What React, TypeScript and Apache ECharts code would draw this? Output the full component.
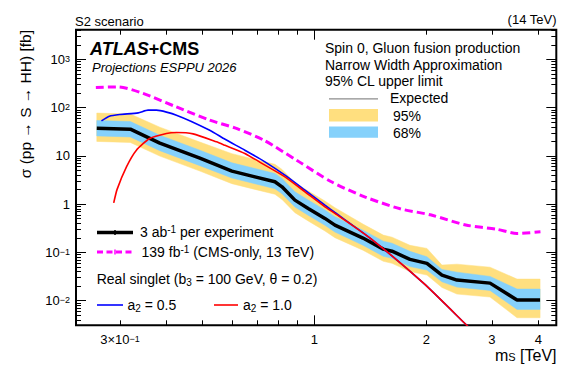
import React, { useEffect, useRef } from "react";
import * as echarts from "echarts";

// ---- Expected limit, 3 ab^-1 per experiment (mass in TeV, sigma in fb)
const MASS_EXP = [0.26, 0.32, 0.384, 0.492, 0.6, 0.692, 0.783, 0.818, 0.886, 0.962, 1.067, 1.135, 1.35, 1.531, 1.616, 1.806, 2.006, 2.201, 2.415, 2.964, 3.503, 4.04];
const EXPECTED = [37.5, 35.7, 18.3, 8.96, 4.82, 3.67, 2.9, 2.28, 1.21, 0.815, 0.506, 0.367, 0.198, 0.117, 0.106, 0.0716, 0.0592, 0.0339, 0.0267, 0.0231, 0.0103, 0.0103];
const BAND95_HI = [76.9, 73.2, 39.3, 19.3, 11.1, 8.44, 6.67, 5.24, 2.78, 1.87, 1.16, 0.844, 0.386, 0.228, 0.207, 0.14, 0.121, 0.0546, 0.0571, 0.0494, 0.028, 0.028];
const BAND68_HI = [54.0, 51.4, 26.7, 13.1, 7.18, 5.47, 4.32, 3.4, 1.8, 1.21, 0.754, 0.547, 0.289, 0.171, 0.155, 0.105, 0.0811, 0.0444, 0.039, 0.0318, 0.0174, 0.0174];
const BAND68_LO = [25.9, 24.6, 12.8, 6.27, 3.47, 2.64, 2.09, 1.64, 0.871, 0.587, 0.364, 0.264, 0.141, 0.0831, 0.0753, 0.0508, 0.043, 0.0246, 0.0191, 0.0163, 0.0066, 0.0066];
const BAND95_LO = [19.9, 18.9, 9.88, 4.84, 2.65, 2.02, 1.6, 1.25, 0.666, 0.448, 0.278, 0.202, 0.111, 0.0655, 0.0594, 0.0401, 0.0339, 0.0188, 0.0137, 0.0119, 0.00443, 0.00443];

// ---- 139 fb^-1 CMS-only, 13 TeV
const MASS_CMS = [0.2585, 0.2967, 0.3463, 0.4256, 0.523, 0.617, 0.731, 0.898, 1.11, 1.37, 1.7, 2.05, 2.55, 3.1, 3.5, 4.05];
const XS_CMS = [260, 268, 196, 103, 54.8, 36.9, 21.1, 8.0, 2.9, 1.4, 0.8, 0.6, 0.37, 0.3, 0.247, 0.267];

// ---- Real singlet, a2 = 0.5
const MASS_A05 = [0.2676, 0.281, 0.2996, 0.336, 0.357, 0.376, 0.4256, 0.523, 0.575, 0.65, 0.736, 0.833, 0.943, 1.067, 1.135, 1.414, 1.967, 2.546, 2.65];
const XS_A05 = [53, 66.4, 72, 77.7, 88.3, 88.3, 69.6, 34.0, 22.0, 13.1, 7.52, 3.98, 1.95, 0.953, 0.67, 0.195, 0.0228, 0.00328, 0.0024];

// ---- Real singlet, a2 = 1.0
const MASS_A10 = [0.2887, 0.2948, 0.3124, 0.3322, 0.3607, 0.4, 0.4256, 0.472, 0.545, 0.575, 0.65, 0.736, 0.833, 0.943, 1.067, 1.135, 1.414, 1.967, 2.546, 2.65];
const XS_A10 = [1.06, 2.02, 5.92, 13.1, 22.9, 29.1, 30.5, 28.5, 19.5, 16.5, 11.2, 6.41, 3.67, 1.8, 0.879, 0.641, 0.195, 0.0228, 0.00328, 0.0024];

// ---- Axis ticks / labels (TeV and fb)
const X_LABELS = [0.3, 1, 2, 3, 4];
const X_MINOR = [0.3, 0.4, 0.5, 0.6, 0.7, 0.8, 0.9, 2, 3, 4];
const X_MAJOR = [1];
const Y_LABELS = [-2, -1, 0, 1, 2, 3];
const Y_DECADES = [-3, -2, -1, 0, 1, 2, 3];
const Y_MINOR_MULT = [2, 3, 4, 5, 6, 7, 8, 9];

const X_RANGE = [0.2286, 4.467];
const Y_RANGE = [0.00309, 4100];

const FONT = "'Liberation Sans', Arial, Helvetica, sans-serif";
const YELLOW = "#FFDF7F";
const BLUE = "#85D1FB";

const lg = (v: number) => Math.log10(v);

function buildOption() {
  const xMin = lg(X_RANGE[0]);
  const xMax = lg(X_RANGE[1]);
  const yMin = lg(Y_RANGE[0]);
  const yMax = lg(Y_RANGE[1]);

  const yMinor: number[] = [];
  Y_DECADES.forEach((d) => Y_MINOR_MULT.forEach((k) => yMinor.push(d + lg(k))));

  const labelRich = {
    b: { fontSize: 13, fontFamily: FONT, color: "#000", lineHeight: 10 },
    s: { fontSize: 9, fontFamily: FONT, color: "#000", verticalAlign: "top", lineHeight: 4 },
  };

  const yFmt = (v: number) => {
    const n = Math.round(v);
    if (n === 0) return "{b|1}";
    if (n === 1) return "{b|10}";
    return "{b|10}{s|" + (n < 0 ? "\u2212" + -n : String(n)) + "}";
  };
  const xFmt = (v: number) => {
    const m = Math.pow(10, v);
    if (Math.abs(m - 0.3) < 0.01) return "{b|3\u00d710}{s|\u22121}";
    return "{b|" + Math.round(m) + "}";
  };

  const tickStyle = { color: "#000", width: 1 };
  const mkX = (pos: string, vals: number[], len: number, labels?: boolean) => ({
    type: "value",
    gridIndex: 0,
    position: pos,
    min: xMin,
    max: xMax,
    axisLine: { show: false, onZero: false },
    splitLine: { show: false },
    axisTick: { show: true, inside: true, length: len, lineStyle: tickStyle, customValues: vals },
    axisLabel: labels
      ? { show: true, customValues: X_LABELS.map(lg), formatter: xFmt, margin: 9.5, rich: labelRich, fontFamily: FONT, fontSize: 13, color: "#000", lineHeight: 10 }
      : { show: false },
  });
  const mkY = (pos: string, vals: number[], len: number, labels?: boolean) => ({
    type: "value",
    gridIndex: 0,
    position: pos,
    min: yMin,
    max: yMax,
    axisLine: { show: false, onZero: false },
    splitLine: { show: false },
    axisTick: { show: true, inside: true, length: len, lineStyle: tickStyle, customValues: vals },
    axisLabel: labels
      ? { show: true, customValues: Y_LABELS, formatter: yFmt, margin: 6, rich: labelRich, fontFamily: FONT, fontSize: 13, color: "#000", lineHeight: 10 }
      : { show: false },
  });

  const pts = (ms: number[], vs: number[]) => ms.map((m, i) => [lg(m), lg(vs[i])]);

  const band = (lo: number[], hi: number[], color: string, z: number) => ({
    type: "custom",
    xAxisIndex: 0,
    yAxisIndex: 0,
    silent: true,
    z,
    encode: { x: 0, y: [1, 2] },
    data: MASS_EXP.map((m, i) => [lg(m), lg(lo[i]), lg(hi[i])]),
    renderItem: (params: any, api: any) => {
      if (params.dataIndex !== 0) return { type: "group", children: [] };
      const top = MASS_EXP.map((m, i) => api.coord([lg(m), lg(hi[i])]));
      const bot = MASS_EXP.map((m, i) => api.coord([lg(m), lg(lo[i])])).reverse();
      return {
        type: "polygon",
        shape: { points: top.concat(bot) },
        style: { fill: color, stroke: color, lineWidth: 0.5 },
      };
    },
  });

  const rich14 = {
    n: { fontSize: 14, fontFamily: FONT, color: "#000", lineHeight: 16 },
    sup: { fontSize: 10, fontFamily: FONT, color: "#000", verticalAlign: "top", lineHeight: 8 },
    sub: { fontSize: 10, fontFamily: FONT, color: "#000", verticalAlign: "bottom", lineHeight: 4 },
  };
  const txt = (x: number, y: number, text: string, size: number, extra: any = {}) => ({
    type: "text",
    x,
    y,
    z: 100,
    style: {
      text,
      fill: "#000",
      fontSize: size,
      fontFamily: FONT,
      align: "left",
      textAlign: "left",
      verticalAlign: "middle",
      textVerticalAlign: "middle",
      ...extra,
    },
  });
  const seg = (x1: number, y1: number, x2: number, y2: number, stroke: string, w: number, dash?: number[]) => ({
    type: "line",
    z: 100,
    shape: { x1, y1, x2, y2 },
    style: { stroke, lineWidth: w, lineDash: dash },
  });

  return {
    animation: false,
    backgroundColor: "#fff",
    grid: {
      left: 76,
      top: 29.7,
      right: 23.7,
      bottom: 44.7,
      show: true,
      borderColor: "#000",
      borderWidth: 2,
      backgroundColor: "transparent",
    },
    xAxis: [
      mkX("bottom", X_MINOR.map(lg), 5, true),
      mkX("bottom", X_MAJOR.map(lg), 10),
      mkX("top", X_MINOR.map(lg), 5),
      mkX("top", X_MAJOR.map(lg), 10),
    ],
    yAxis: [
      mkY("left", yMinor, 5, true),
      mkY("left", Y_DECADES, 10),
      mkY("right", yMinor, 5),
      mkY("right", Y_DECADES, 10),
    ],
    series: [
      band(BAND95_LO, BAND95_HI, YELLOW, 1),
      band(BAND68_LO, BAND68_HI, BLUE, 2),
      {
        type: "line",
        name: "expected",
        data: pts(MASS_EXP, EXPECTED),
        symbol: "none",
        lineStyle: { color: "#000", width: 3.5 },
        z: 5,
      },
      {
        type: "line",
        name: "cms",
        data: pts(MASS_CMS, XS_CMS),
        symbol: "none",
        smooth: 0.25,
        lineStyle: { color: "#ff00ff", width: 3, type: [8, 4] },
        z: 6,
      },
      {
        type: "line",
        name: "a05",
        data: pts(MASS_A05, XS_A05),
        symbol: "none",
        smooth: 0.2,
        lineStyle: { color: "#0000ff", width: 1.6 },
        z: 7,
      },
      {
        type: "line",
        name: "a10",
        data: pts(MASS_A10, XS_A10),
        symbol: "none",
        smooth: 0.2,
        lineStyle: { color: "#ff0000", width: 1.6 },
        z: 8,
      },
    ],
    graphic: [
      txt(75, 21.5, "S2 scenario", 13),
      txt(556.5, 19.5, "(14 TeV)", 13, { align: "right", textAlign: "right" }),
      txt(90, 49, "{a|ATLAS}{c|+CMS}", 18, {
        rich: {
          a: { fontSize: 18, fontFamily: FONT, fontWeight: "bold", fontStyle: "italic", color: "#000" },
          c: { fontSize: 18, fontFamily: FONT, fontWeight: "bold", color: "#000" },
        },
      }),
      txt(92, 67.5, "Projections ESPPU 2026", 13, { fontStyle: "italic" }),
      // upper-right legend
      txt(325, 48, "Spin 0, Gluon fusion production", 14),
      txt(325, 64.5, "Narrow Width Approximation", 14),
      txt(325, 81, "95% CL upper limit", 14),
      seg(329, 98.8, 378, 98.8, "#8c8c8c", 1.3),
      txt(390, 97.5, "Expected", 14),
      { type: "rect", z: 100, shape: { x: 329, y: 109, width: 49, height: 12.5 }, style: { fill: YELLOW } },
      txt(393, 115.5, "95%", 14),
      { type: "rect", z: 100, shape: { x: 329, y: 126.5, width: 49, height: 11.2 }, style: { fill: BLUE } },
      txt(393, 132.5, "68%", 14),
      // lower-left legend
      seg(97, 232.5, 133, 232.5, "#000", 3.5),
      seg(115, 230, 115, 235, "#000", 1.5),
      txt(140, 232, "{n|3 ab}{sup|-1}{n| per experiment}", 14, { rich: rich14 }),
      seg(97, 252, 133, 252, "#ff00ff", 3, [6, 3.5]),
      seg(115, 249.5, 115, 254.5, "#ff00ff", 1.5),
      txt(141.5, 252, "{n|139 fb}{sup|-1}{n| (CMS-only, 13 TeV)}", 14, { rich: rich14 }),
      txt(96.7, 279, "{n|Real singlet (b}{sub|3}{n| = 100 GeV, \u03b8 = 0.2)}", 14, { rich: rich14 }),
      seg(97, 305, 123, 305, "#0000ff", 1.6),
      txt(127.5, 305, "{n|a}{sub|2}{n| = 0.5}", 14, { rich: rich14 }),
      seg(214, 305, 238, 305, "#ff0000", 1.6),
      txt(243, 305, "{n|a}{sub|2}{n| = 1.0}", 14, { rich: rich14 }),
      // axis titles
      {
        type: "text",
        x: 25,
        y: 30,
        rotation: Math.PI / 2,
        z: 100,
        style: {
          text: "\u03c3 (pp \u2192 S \u2192 HH) [fb]",
          fill: "#000",
          fontSize: 15.5,
          fontFamily: FONT,
          align: "right",
          textAlign: "right",
          verticalAlign: "middle",
          textVerticalAlign: "middle",
        },
      },
      txt(556.5, 355, "{m|m}{s|S}{m| [TeV]}", 16, {
        align: "right",
        textAlign: "right",
        rich: {
          m: { fontSize: 16, fontFamily: FONT, color: "#000", lineHeight: 14 },
          s: { fontSize: 11, fontFamily: FONT, color: "#000", verticalAlign: "bottom", lineHeight: 1 },
        },
      }),
    ],
  };
}

export default function App() {
  const ref = useRef<HTMLDivElement>(null);
  useEffect(() => {
    document.body.style.margin = "0";
    if (!ref.current) return;
    const chart = echarts.init(ref.current, null, { renderer: "svg" });
    chart.setOption(buildOption() as any);
    return () => {
      chart.dispose();
    };
  }, []);
  return <div ref={ref} style={{ width: 580, height: 370 }} />;
}
